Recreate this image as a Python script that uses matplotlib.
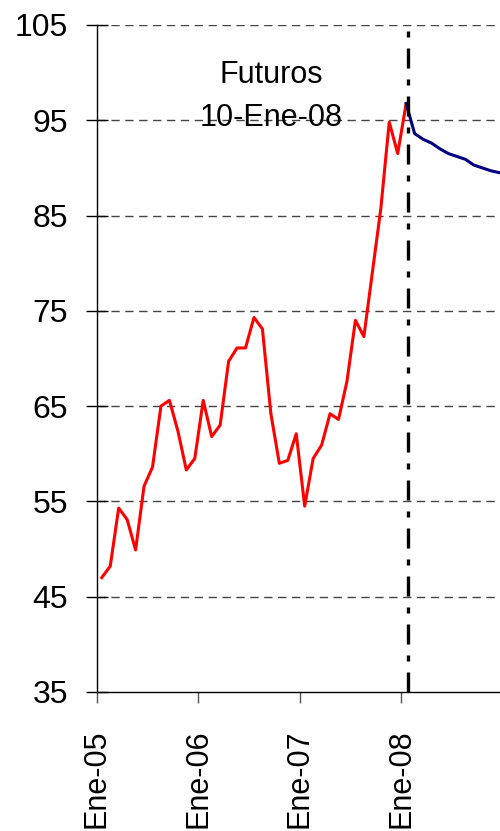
import matplotlib
matplotlib.use("Agg")
import matplotlib.pyplot as plt
import numpy as np

plt.rcParams['font.family'] = ['Liberation Sans', 'DejaVu Sans']

# Monthly spot prices Jan-2005 .. Jan-2008 (red)
spot = [47.0, 48.2, 54.3, 53.1, 49.9, 56.6, 58.6, 65.0, 65.6, 62.4, 58.3, 59.5,
        65.6, 61.8, 63.0, 69.7, 71.1, 71.1, 74.3, 73.1, 64.2, 59.0, 59.3, 62.1,
        54.5, 59.5, 60.9, 64.2, 63.6, 67.6, 74.0, 72.3, 79.0, 85.7, 94.8, 91.5,
        96.75]
# Futures curve as of 10-Ene-08, Jan-2008 .. Dec-2008 (blue)
futures = [96.75, 93.6, 93.0, 92.6, 92.0, 91.5, 91.2, 90.9, 90.3, 90.0, 89.7, 89.5]

tick_labels = ["Ene-05", "Ene-06", "Ene-07", "Ene-08"]
tick_months = [0, 12, 24, 36]
yticks = [35, 45, 55, 65, 75, 85, 95, 105]
annot_line1 = "Futuros"
annot_line2 = "10-Ene-08"
cut_month = 36.76

offset = 0.6
x_spot = np.arange(len(spot)) + offset
x_fut = np.arange(len(futures)) + 36 + offset

fig = plt.figure(figsize=(5, 8.31), dpi=100)
ax = fig.add_axes([0.1934, 0.1673, 1.0 - 0.1934, 0.970 - 0.1673])

for y in yticks[1:]:
    ax.axhline(y, color='#444444', lw=1.0, ls=(0, (6, 4)), zorder=1)

ax.plot(x_spot, spot, color='#ff0000', lw=2.2, zorder=3)
ax.plot(x_fut, futures, color='#000080', lw=2.2, zorder=3)
ax.axvline(cut_month, color='black', lw=2.4, ls=(0, (6.0, 3.3, 1.8, 3.3)), zorder=4)

ax.text(20.6, 98.9, annot_line1, ha='center', va='baseline', fontsize=22)
ax.text(20.6, 94.4, annot_line2, ha='center', va='baseline', fontsize=22)

ax.set_xlim(0, 47.7)
ax.set_ylim(35, 105)
ax.set_yticks(yticks)
ax.set_yticklabels([str(v) for v in yticks], fontsize=23)
ax.set_xticks(tick_months)
ax.set_xticklabels(tick_labels, rotation=90, fontsize=22)

ax.spines['top'].set_visible(False)
ax.spines['right'].set_visible(False)
ax.spines['left'].set_linewidth(1.0)
ax.spines['bottom'].set_linewidth(1.0)
ax.tick_params(axis='y', direction='inout', length=15.4, width=1.0, pad=13)
ax.tick_params(axis='x', direction='out', length=8, width=1.0, pad=19, color='#555555')

fig.savefig("out.png", dpi=100)
